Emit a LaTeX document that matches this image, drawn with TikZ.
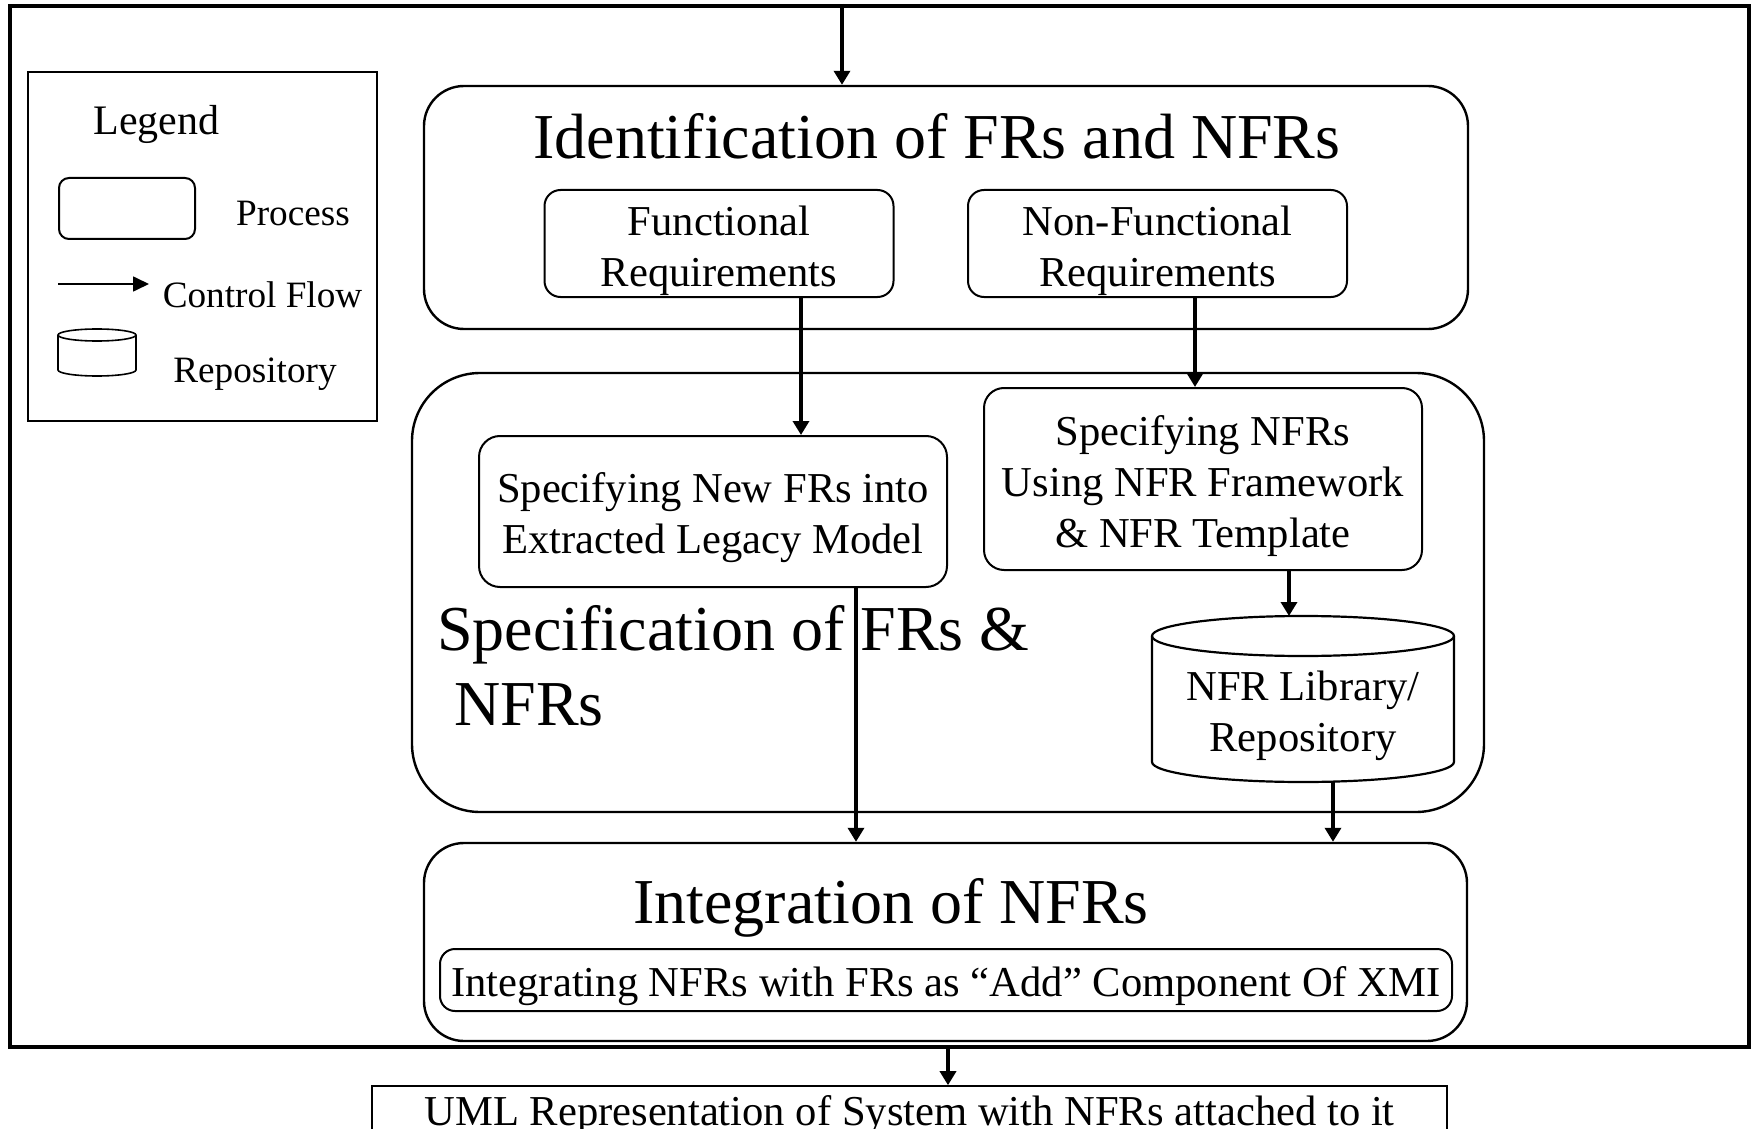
\documentclass[tikz,border=0pt]{standalone}
\usepackage{fontspec}
\setmainfont{Liberation Serif}
\usetikzlibrary{arrows.meta}
\begin{document}
\begin{tikzpicture}[x=0.5pt,y=-0.5pt,
  bigbox/.style={draw, line width=1.2pt, rounded corners=20pt, inner sep=0pt},
  procbox/.style={draw, line width=1pt, rounded corners=8pt, inner sep=0pt},
  arr/.style={line width=1.7pt, -{Triangle[length=7pt,width=8pt]}},
  bigtxt/.style={font=\fontsize{32}{38.5}\selectfont, inner sep=0pt},
  midtxt/.style={font=\fontsize{21.3}{25.5}\selectfont, inner sep=0pt, align=center},
  legtxt/.style={font=\fontsize{18.6}{22}\selectfont, inner sep=0pt, anchor=base}]
\clip (0,0) rectangle (1753,1129);
% outer frame
\node[draw, line width=2pt, minimum width=869.5pt, minimum height=520.5pt, inner sep=0pt] (frame) at (879.5,526.5) {};
% legend
\node[draw, line width=0.8pt, minimum width=174.5pt, minimum height=174.5pt, inner sep=0pt] (legend) at (202.5,246.5) {};
\node[font=\fontsize{21}{25}\selectfont, inner sep=0pt, anchor=base] (legtitle) at (156.5,135) {Legend};
\node[draw, line width=1pt, rounded corners=5pt, minimum width=68pt, minimum height=30.5pt, inner sep=0pt] (legproc) at (127,208.5) {};
\node[legtxt] (legproctxt) at (293,226) {Process};
\coordinate (lega) at (58,284);
\coordinate (legb) at (149,284);
\draw[line width=0.85pt, -{Triangle[length=8pt,width=7.5pt]}] (lega) -- (legb);
\node[legtxt] (legflowtxt) at (262.5,307) {Control Flow};
\node[minimum width=39pt, minimum height=23.5pt, inner sep=0pt, outer sep=0pt] (legcyl) at (97,352.5) {};
\draw[line width=0.8pt] ([yshift=-3pt]legcyl.north) ellipse [x radius=19.5pt, y radius=3pt];
\draw[line width=0.8pt] ([yshift=-3pt]legcyl.north west) -- ([yshift=3pt]legcyl.south west)
  arc[start angle=180, end angle=360, x radius=19.5pt, y radius=3pt] -- ([yshift=-3pt]legcyl.north east);
\node[legtxt] (legrepotxt) at (255,382) {Repository};
% identification
\node[bigbox, minimum width=522pt, minimum height=121.5pt] (ident) at (946,207.5) {};
\node[bigtxt, anchor=base] (identtitle) at (937,159) {Identification of FRs and NFRs};
\node[procbox, minimum width=174.5pt, minimum height=53.5pt] (fr) at (719,243.5) {};
\node[midtxt] (frtxt) at ([yshift=-3.4pt]fr.center) {Functional\\Requirements};
\node[procbox, minimum width=189.5pt, minimum height=53.5pt] (nfr) at (1157.5,243.5) {};
\node[midtxt] (nfrtxt) at ([yshift=-3.4pt]nfr.center) {Non-Functional\\Requirements};
% specification
\node[bigbox, rounded corners=34pt, minimum width=536pt, minimum height=219.5pt] (spec) at (948,592.5) {};
\node[bigtxt, anchor=base west] (spectitlea) at (437,650.5) {Specification of FRs \&};
\node[bigtxt, anchor=base west] (spectitleb) at (454,725.5) {NFRs};
\node[procbox, rounded corners=10.5pt, minimum width=234pt, minimum height=75.5pt] (snf) at (713,511.5) {};
\node[midtxt] (snftxt) at ([yshift=-2.8pt]snf.center) {Specifying New FRs into\\Extracted Legacy Model};
\node[procbox, rounded corners=10pt, minimum width=219pt, minimum height=91pt] (sn) at (1203,479) {};
\node[midtxt] (sntxt) at ([yshift=-3.4pt]sn.center) {Specifying NFRs\\Using NFR Framework\\\& NFR Template};
\node[minimum width=151pt, minimum height=83pt, inner sep=0pt, outer sep=0pt] (cyl) at (1303,699) {};
\draw[line width=1.1pt] ([yshift=-10pt]cyl.north) ellipse [x radius=75.5pt, y radius=10pt];
\draw[line width=1.1pt] ([yshift=-10pt]cyl.north west) -- ([yshift=10pt]cyl.south west)
  arc[start angle=180, end angle=360, x radius=75.5pt, y radius=10pt] -- ([yshift=-10pt]cyl.north east);
\node[midtxt] (cyltxt) at (1303,715.5) {NFR Library/\\Repository};
% integration
\node[bigbox, minimum width=521.5pt, minimum height=99pt] (integ) at (945.5,942) {};
\node[bigtxt, anchor=base] (integtitle) at (891,923.5) {Integration of NFRs};
\node[procbox, rounded corners=7.5pt, minimum width=506pt, minimum height=31pt] (integin) at (946,980) {};
\node[midtxt] (integintxt) at ([yshift=-2.8pt]integin.center) {Integrating NFRs with FRs as “Add” Component Of XMI};
% output
\node[draw, line width=0.8pt, minimum width=537.5pt, minimum height=27pt, inner sep=0pt] (uml) at (909.5,1113) {};
\node[midtxt] (umltxt) at ([yshift=-1.1pt]uml.center) {UML Representation of System with NFRs attached to it};
% connectors
\draw[arr] ([xshift=-52pt]ident.north |- frame.north) -- ([xshift=-52pt]ident.north);
\draw[arr] ([xshift=41pt]fr.south) -- ([xshift=41pt]fr.south |- snf.north);
\draw[arr] ([xshift=18.75pt]nfr.south) -- ([xshift=18.75pt]nfr.south |- sn.north);
\draw[arr] ([xshift=71.5pt]snf.south) -- ([xshift=71.5pt]snf.south |- integ.north);
\draw[arr] ([xshift=-7pt]cyl.north |- sn.south) -- ([xshift=-7pt]cyl.north);
\draw[arr] ([xshift=15pt]cyl.south) -- ([xshift=15pt]cyl.south |- integ.north);
\draw[arr] ([xshift=19.25pt]uml.north |- frame.south) -- ([xshift=19.25pt]uml.north);
\end{tikzpicture}
\end{document}
